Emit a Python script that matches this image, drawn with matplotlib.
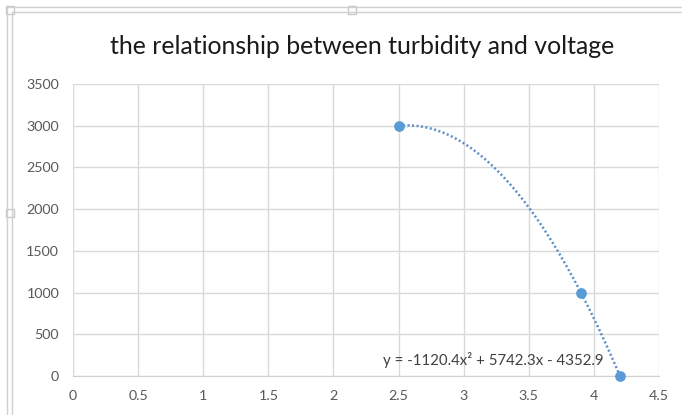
import numpy as np
import matplotlib
matplotlib.use("Agg")
import matplotlib.pyplot as plt
from matplotlib.patches import Rectangle
from matplotlib.lines import Line2D

# Data
voltage = [2.5, 3.9, 4.2]
turbidity = [3000, 1000, 0]
coef = [-1120.4, 5742.3, -4352.9]
x_ticks = [0, 0.5, 1, 1.5, 2, 2.5, 3, 3.5, 4, 4.5]
y_ticks = [0, 500, 1000, 1500, 2000, 2500, 3000, 3500]
title = "the relationship between turbidity and voltage"
eq_label = "y = -1120.4x² + 5742.3x - 4352.9"

W, H = 682, 415
fig = plt.figure(figsize=(W / 100, H / 100), dpi=100)
fig.patch.set_facecolor("white")

def fx(px):
    return px / W

def fy(py):
    return 1 - py / H

# Excel-like chart border (double lines + handles)
border_col = "#d0d0d0"
for py in (7, 12):
    fig.add_artist(Line2D([fx(7 if py == 7 else 12), 1], [fy(py), fy(py)], color=border_col, lw=1.0))
for px in (7, 12):
    fig.add_artist(Line2D([fx(px), fx(px)], [fy(7 if px == 7 else 12), 0], color=border_col, lw=1.0))
for (hx, hy) in [(10, 10), (352, 10), (10, 213)]:
    fig.add_artist(Rectangle((fx(hx - 4), fy(hy + 4)), 8 / W, 8 / H, facecolor="white",
                             edgecolor="#c8c8c8", lw=1.0))

ax = fig.add_axes([fx(73), fy(376), fx(659) - fx(73), fy(84) - fy(376)])
ax.set_xlim(0, 4.5)
ax.set_ylim(0, 3500)
ax.set_xticks(x_ticks)
ax.set_yticks(y_ticks)
ax.set_xticklabels([f"{t:g}" for t in x_ticks])
ax.set_yticklabels([f"{t:g}" for t in y_ticks])
ax.grid(True, color="#d9d9d9", lw=1.0)
ax.set_axisbelow(True)
for s in ax.spines.values():
    s.set_visible(False)
ax.spines["bottom"].set_visible(True)
ax.spines["bottom"].set_color("#d0d0d0")
ax.tick_params(length=0, colors="#595959", labelsize=10.3, pad=10)
for lab in ax.get_xticklabels() + ax.get_yticklabels():
    lab.set_family("Lato")

# Trendline
xs = np.linspace(min(voltage), max(voltage), 200)
ys = np.polyval(coef, xs)
ax.plot(xs, ys, color="#5b8fc7", lw=1.8, linestyle=(0, (0.8, 1.0)), zorder=3)
ax.scatter(voltage, turbidity, s=45, color="#5b9bd5", zorder=4, clip_on=False)

ax.text(3.23, 90, eq_label, fontsize=10.8, color="#404040", family="Lato", ha="center", va="bottom")

fig.text(fx(362), fy(47), title, fontsize=17.9, color="#1a1a1a", family="Lato", ha="center", va="center")

fig.savefig("out.png", dpi=100)
